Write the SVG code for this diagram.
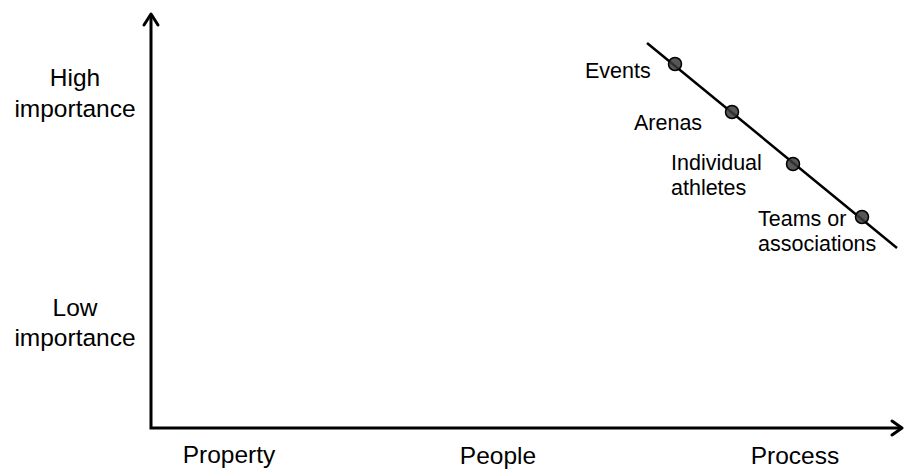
<svg xmlns="http://www.w3.org/2000/svg" width="904" height="470" viewBox="0 0 904 470">
<style>
text{font-family:"Liberation Sans",Arial,sans-serif;font-size:21.5px;fill:#000}
.big{font-size:24.5px}
.axis{stroke:#000;stroke-width:3;fill:none}
.head{stroke:#000;stroke-width:3;fill:none;stroke-linecap:round;stroke-linejoin:round}
.dot{fill:#3a3a3a;fill-opacity:0.85;stroke:#000;stroke-width:1.5}
.c{text-anchor:middle}
</style>
<rect width="904" height="470" fill="#fff"/>
<g id="connectors">
<path class="axis" d="M151,16 V428 H900"/>
<path class="head" d="M144,25 L151,14 L158,25"/>
<path class="head" d="M892,421 L902,428 L892,435"/>
<line x1="647" y1="43" x2="897" y2="248" stroke="#000" stroke-width="2.5"/>
</g>
<g id="y-labels">
<text class="c big" x="75" y="86">High<tspan x="75" y="117">importance</tspan></text>
<text class="c big" x="75" y="316">Low<tspan x="75" y="346">importance</tspan></text>
</g>
<g id="x-labels">
<text class="c big" x="229" y="463">Property</text>
<text class="c big" x="498" y="464">People</text>
<text class="c big" x="795" y="464">Process</text>
</g>
<g id="events"><circle class="dot" cx="675" cy="64" r="6.5"/><text x="585" y="78">Events</text></g>
<g id="arenas"><circle class="dot" cx="732" cy="112" r="6.5"/><text x="634" y="130">Arenas</text></g>
<g id="athletes"><circle class="dot" cx="793" cy="164" r="6.5"/><text x="671" y="170">Individual<tspan x="671" y="195">athletes</tspan></text></g>
<g id="teams"><circle class="dot" cx="862" cy="217" r="6.5"/><text x="758" y="226">Teams or<tspan x="758" y="251">associations</tspan></text></g>
</svg>
